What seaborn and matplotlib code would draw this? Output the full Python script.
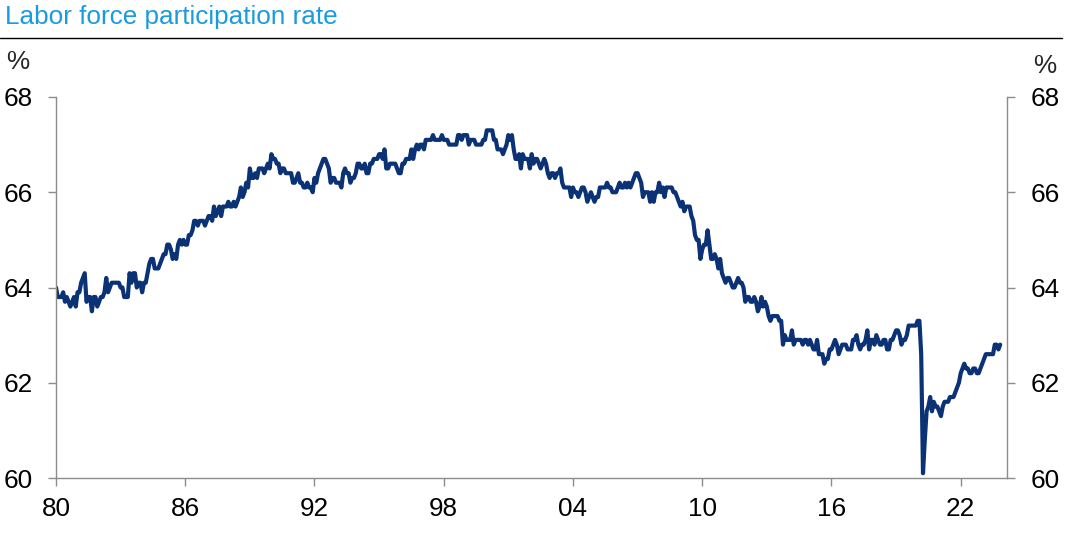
import numpy as np
import pandas as pd
import matplotlib
matplotlib.use("Agg")
import matplotlib.pyplot as plt
import seaborn as sns

# Monthly labor force participation rate (%), starting Jan 1980
lfpr_1980s = [
    64.0, 63.8, 63.8, 63.8, 63.9, 63.7, 63.8, 63.7, 63.6, 63.7, 63.8, 63.6,
    63.9, 63.9, 64.1, 64.2, 64.3, 63.7, 63.8, 63.8, 63.5, 63.8, 63.8, 63.6,
    63.7, 63.8, 63.8, 63.9, 64.2, 63.9, 64.0, 64.1, 64.1, 64.1, 64.1, 64.1,
    64.0, 64.0, 63.8, 63.8, 63.8, 64.3, 64.1, 64.3, 64.3, 64.0, 64.1, 64.1,
    63.9, 64.1, 64.1, 64.3, 64.5, 64.6, 64.6, 64.4, 64.4, 64.4, 64.5, 64.6,
    64.7, 64.7, 64.9, 64.9, 64.8, 64.6, 64.7, 64.6, 64.9, 65.0, 64.9, 65.0,
    64.9, 64.9, 65.1, 65.1, 65.2, 65.4, 65.4, 65.3, 65.4, 65.4, 65.4, 65.3,
    65.4, 65.5, 65.5, 65.4, 65.7, 65.5, 65.6, 65.7, 65.5, 65.7, 65.7, 65.7,
    65.8, 65.7, 65.7, 65.8, 65.7, 65.8, 65.9, 66.1, 65.9, 66.0, 66.2, 66.1,
    66.5, 66.3, 66.3, 66.4, 66.3, 66.5, 66.5, 66.5, 66.4, 66.5, 66.6, 66.5,
]
lfpr_1990s = [
    66.8, 66.7, 66.7, 66.6, 66.6, 66.4, 66.5, 66.5, 66.4, 66.4, 66.4, 66.4,
    66.2, 66.2, 66.3, 66.4, 66.2, 66.2, 66.1, 66.1, 66.2, 66.1, 66.1, 66.0,
    66.3, 66.2, 66.4, 66.5, 66.6, 66.7, 66.7, 66.6, 66.5, 66.2, 66.3, 66.3,
    66.2, 66.2, 66.2, 66.1, 66.4, 66.5, 66.4, 66.4, 66.2, 66.3, 66.3, 66.4,
    66.6, 66.6, 66.5, 66.5, 66.6, 66.4, 66.4, 66.6, 66.6, 66.7, 66.7, 66.7,
    66.8, 66.8, 66.7, 66.9, 66.5, 66.5, 66.6, 66.6, 66.6, 66.6, 66.5, 66.4,
    66.4, 66.6, 66.6, 66.7, 66.7, 66.7, 66.9, 66.7, 66.9, 67.0, 66.9, 67.0,
    67.0, 66.9, 67.1, 67.1, 67.1, 67.1, 67.2, 67.1, 67.1, 67.1, 67.1, 67.2,
    67.1, 67.1, 67.1, 67.0, 67.0, 67.0, 67.0, 67.0, 67.2, 67.2, 67.1, 67.2,
    67.2, 67.2, 67.0, 67.1, 67.1, 67.1, 67.0, 67.0, 67.0, 67.0, 67.1, 67.1,
]
lfpr_2000s = [
    67.3, 67.3, 67.3, 67.3, 67.1, 67.1, 66.9, 66.9, 66.9, 66.8, 66.9, 67.0,
    67.2, 67.1, 67.2, 66.9, 66.7, 66.7, 66.8, 66.5, 66.8, 66.7, 66.7, 66.7,
    66.5, 66.8, 66.6, 66.7, 66.7, 66.6, 66.5, 66.6, 66.7, 66.6, 66.4, 66.3,
    66.4, 66.4, 66.3, 66.4, 66.4, 66.5, 66.2, 66.1, 66.1, 66.1, 66.1, 65.9,
    66.1, 66.0, 66.0, 65.9, 66.0, 66.1, 66.1, 66.0, 65.8, 65.9, 66.0, 65.9,
    65.8, 65.9, 65.9, 66.1, 66.1, 66.1, 66.1, 66.2, 66.1, 66.1, 66.0, 66.0,
    66.0, 66.1, 66.2, 66.1, 66.1, 66.2, 66.1, 66.2, 66.1, 66.2, 66.3, 66.4,
    66.4, 66.3, 66.2, 65.9, 66.0, 66.0, 66.0, 65.8, 66.0, 65.8, 66.0, 66.0,
    66.2, 66.0, 66.1, 65.9, 66.1, 66.1, 66.1, 66.1, 66.0, 66.0, 65.9, 65.8,
    65.7, 65.8, 65.6, 65.7, 65.7, 65.7, 65.5, 65.4, 65.1, 65.0, 65.0, 64.6,
]
lfpr_2010s = [
    64.8, 64.9, 64.9, 65.2, 64.9, 64.6, 64.6, 64.7, 64.6, 64.4, 64.6, 64.3,
    64.2, 64.1, 64.2, 64.2, 64.1, 64.0, 64.0, 64.1, 64.2, 64.1, 64.1, 64.0,
    63.7, 63.8, 63.8, 63.7, 63.7, 63.8, 63.7, 63.5, 63.6, 63.8, 63.6, 63.7,
    63.6, 63.4, 63.3, 63.4, 63.4, 63.4, 63.4, 63.3, 63.3, 62.8, 63.0, 62.9,
    62.9, 62.9, 63.1, 62.8, 62.9, 62.9, 62.9, 62.9, 62.8, 62.9, 62.9, 62.8,
    62.9, 62.8, 62.7, 62.7, 62.9, 62.6, 62.6, 62.6, 62.4, 62.5, 62.5, 62.7,
    62.7, 62.8, 62.9, 62.8, 62.6, 62.7, 62.8, 62.8, 62.8, 62.7, 62.7, 62.7,
    62.9, 62.9, 63.0, 62.8, 62.7, 62.8, 62.8, 62.9, 63.1, 62.7, 62.9, 62.9,
    62.8, 63.0, 62.9, 62.8, 62.8, 62.9, 62.9, 62.7, 62.7, 62.9, 62.9, 63.0,
    63.1, 63.1, 63.0, 62.8, 62.9, 62.9, 63.0, 63.2, 63.2, 63.2, 63.2, 63.2,
]
lfpr_2020s = [
    63.3, 63.3, 62.6, 60.1, 60.8, 61.4, 61.5, 61.7, 61.4, 61.6, 61.5, 61.5,
    61.4, 61.3, 61.5, 61.6, 61.6, 61.6, 61.7, 61.7, 61.7, 61.8, 61.9, 62.0,
    62.2, 62.3, 62.4, 62.3, 62.3, 62.2, 62.2, 62.3, 62.3, 62.2, 62.2, 62.3,
    62.4, 62.5, 62.6, 62.6, 62.6, 62.6, 62.6, 62.8, 62.8, 62.7, 62.8,
]
start_year = 1980
tick_years = [1980, 1986, 1992, 1998, 2004, 2010, 2016, 2022]
tick_labels = ["80", "86", "92", "98", "04", "10", "16", "22"]
y_ticks = [60, 62, 64, 66, 68]
title_text = "Labor force participation rate"

values = lfpr_1980s + lfpr_1990s + lfpr_2000s + lfpr_2010s + lfpr_2020s
df = pd.DataFrame({
    "year": start_year + np.arange(len(values)) / 12.0,
    "rate": values,
})

sns.set_theme(style="white")
plt.rcParams["font.family"] = ["Liberation Sans", "DejaVu Sans"]

W, H = 1068, 552
fig = plt.figure(figsize=(W / 100, H / 100), dpi=100)
ax = fig.add_axes([56 / W, 1 - 478 / H, (1007 - 56) / W, (478 - 97) / H])

line_color = "#0b3275"
sns.lineplot(data=df, x="year", y="rate", ax=ax, color=line_color,
             linewidth=3.0, estimator=None, solid_joinstyle="round",
             solid_capstyle="round")

ax.set_xlim(1980, 2024.15)
ax.set_ylim(60, 68)
ax.set_xticks(tick_years)
ax.set_xticklabels(tick_labels)
ax.set_yticks(y_ticks)
ax.set_xlabel("")
ax.set_ylabel("")

spine_color = "#8c8c8c"
for side in ["left", "bottom", "right"]:
    ax.spines[side].set_visible(True)
    ax.spines[side].set_color(spine_color)
    ax.spines[side].set_linewidth(1.0)
ax.spines["top"].set_visible(False)

ax.tick_params(axis="both", which="major", direction="out", length=6,
               width=1.0, color=spine_color, labelsize=18.8,
               labelcolor="black")
ax.tick_params(axis="x", bottom=True, pad=8)
ax.tick_params(axis="y", left=True, right=True, labelleft=True,
               labelright=True, pad=11)
ax.grid(False)

fig.text(5 / W, 1 - 17 / H, title_text, color="#1a9be0", fontsize=18.8,
         ha="left", va="center")
fig.add_artist(plt.Line2D([0, 1062 / W], [1 - 37.5 / H, 1 - 37.5 / H],
                          color="black", linewidth=1.0,
                          transform=fig.transFigure))
fig.text(18 / W, 1 - 62 / H, "%", fontsize=18.8, ha="center", va="center")
fig.text(1045 / W, 1 - 66 / H, "%", fontsize=18.8, ha="center", va="center")

fig.savefig("out.png", dpi=100)
